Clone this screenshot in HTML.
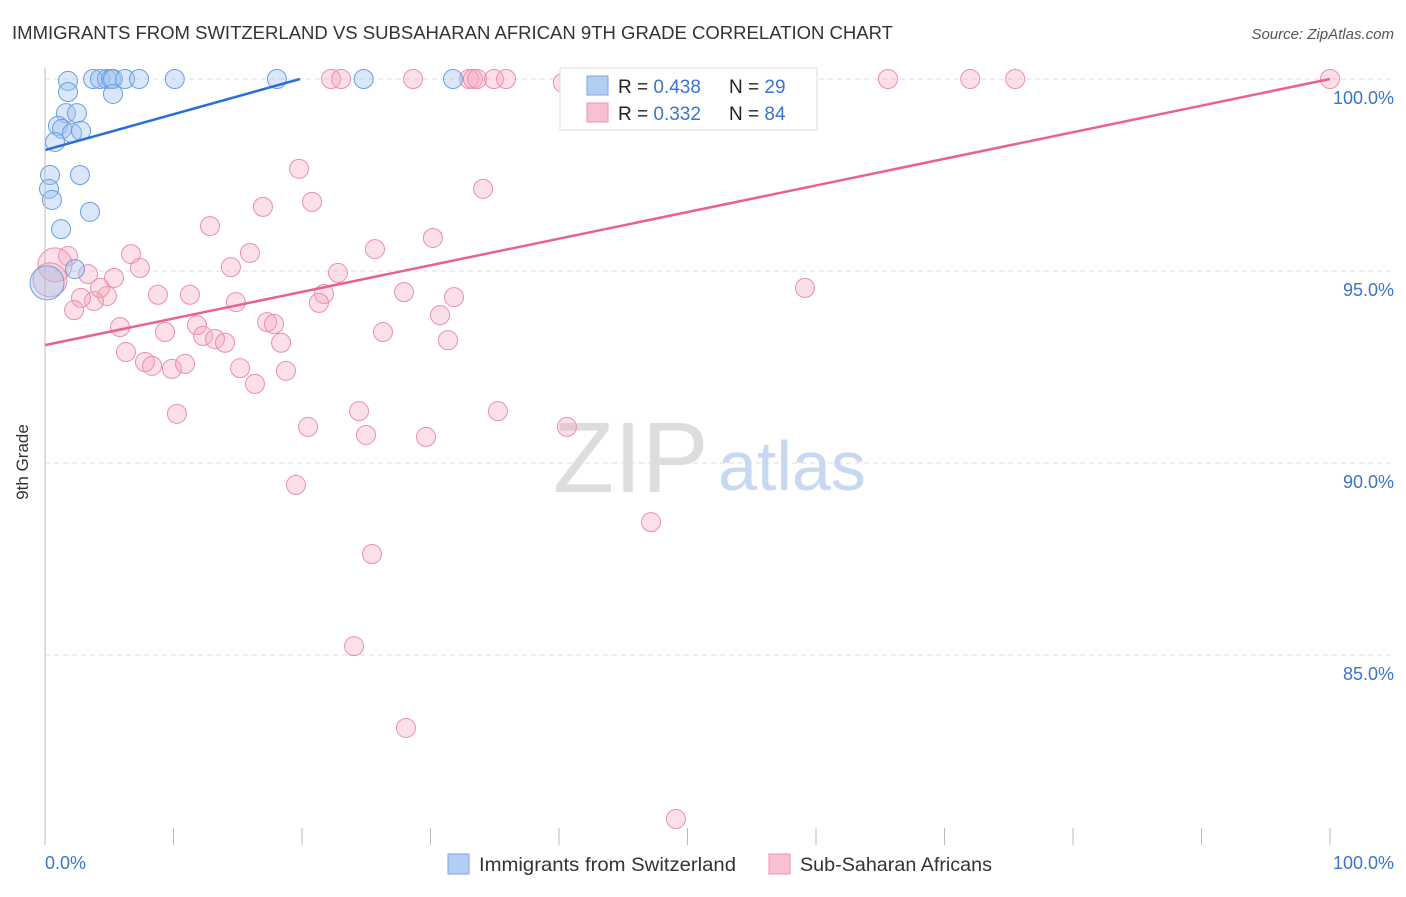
<!DOCTYPE html>
<html><head><meta charset="utf-8"><style>
body{margin:0;background:#fff;font-family:"Liberation Sans",sans-serif;}
svg text{font-family:"Liberation Sans",sans-serif;}
</style></head><body>
<svg id="chart" width="1406" height="892" viewBox="0 0 1406 892">
<text x="12" y="39" font-size="18" fill="#333" textLength="881" lengthAdjust="spacingAndGlyphs">IMMIGRANTS FROM SWITZERLAND VS SUBSAHARAN AFRICAN 9TH GRADE CORRELATION CHART</text>
<text x="1394" y="39" font-size="15" fill="#555" font-style="italic" text-anchor="end">Source: ZipAtlas.com</text>
<g id="grid"></g>
<text x="553" y="492" font-size="100" fill="#ddd" font-family="Liberation Serif">ZIP</text>
<text x="718" y="490" font-size="70" fill="#c8d8f0">atlas</text>
<g id="pts"></g>
<g id="lines"></g>
<line x1="45" y1="68" x2="45" y2="845" stroke="#bbb"/>
<g id="xt"></g>
<text x="28" y="462" font-size="17" fill="#333" transform="rotate(-90 28 462)" text-anchor="middle">9th Grade</text>
<text x="45" y="869" font-size="18" fill="#3a74d0">0.0%</text>
<text x="1394" y="869" font-size="18" fill="#3a74d0" text-anchor="end">100.0%</text>
<g>
<rect x="560" y="68" width="257" height="62" fill="#fff" stroke="#ddd"/>
<rect x="587" y="76" width="21" height="19" fill="#b4cdf2" stroke="#7aa6e6"/>
<rect x="587" y="103" width="21" height="19" fill="#f8c0d0" stroke="#ee94ae"/>
<text x="618" y="93" font-size="19" fill="#222">R = <tspan fill="#3a74d0">0.438</tspan>  <tspan x="729">N = </tspan><tspan fill="#3a74d0">29</tspan></text>
<text x="618" y="120" font-size="19" fill="#222">R = <tspan fill="#3a74d0"> 0.332</tspan>  <tspan x="729">N = </tspan><tspan fill="#3a74d0">84</tspan></text>
</g>
<g>
<rect x="448" y="854" width="21" height="20" fill="#b4cdf2" stroke="#7aa6e6"/>
<text x="479" y="871" font-size="19.5" fill="#333" textLength="257" lengthAdjust="spacingAndGlyphs">Immigrants from Switzerland</text>
<rect x="769" y="854" width="21" height="20" fill="#f8c0d0" stroke="#ee94ae"/>
<text x="800" y="871" font-size="19.5" fill="#333" textLength="192" lengthAdjust="spacingAndGlyphs">Sub-Saharan Africans</text>
</g>
</svg>
<script>
const yTicks=[100,95,90,85];
const yTickLabels=["100.0%","95.0%","90.0%","85.0%"];
const blueX=[1.79,3.74,4.28,4.82,5.14,5.29,6.23,7.32,10.1,18.05,24.8,31.75,1.79,5.29,1.63,2.49,1.01,1.32,2.1,2.8,0.78,0.39,2.72,0.31,0.54,3.5,1.25,2.33,0.16];
const blueY=[99.95,100,100,100,100,100,100,100,100,100,100,100,99.66,99.61,99.11,99.11,98.78,98.7,98.59,98.65,98.36,97.5,97.5,97.14,96.85,96.54,96.09,95.05,94.69];
const pinkX=[22.26,23.04,28.64,33.0,33.3,33.62,34.94,35.88,40.3,42.3,46.07,65.6,72.0,75.5,100,19.77,34.09,16.96,20.78,12.84,30.19,25.68,15.95,6.69,1.79,14.47,7.39,22.8,3.35,5.37,0.78,0.39,27.94,59.14,21.71,8.79,11.28,4.82,3.81,21.32,14.86,2.8,4.28,2.26,30.74,31.83,17.28,17.82,5.84,11.83,9.34,26.3,12.3,13.23,14.01,31.36,18.37,6.3,7.78,8.33,9.88,10.9,15.18,18.75,16.34,10.27,24.44,35.25,20.47,40.62,24.98,29.65,19.53,47.16,25.45,24.05,28.09,49.1];
const pinkY=[100,100,100,100,100,100,100,100,99.9,100,100,100,100,100,100,97.66,97.14,96.67,96.8,96.17,95.86,95.57,95.47,95.44,95.39,95.1,95.08,94.95,94.92,94.82,95.16,94.77,94.45,94.56,94.4,94.38,94.38,94.35,94.22,94.17,94.19,94.3,94.56,93.98,93.85,94.32,93.67,93.62,93.54,93.59,93.41,93.41,93.31,93.23,93.13,93.2,93.13,92.89,92.63,92.53,92.45,92.58,92.47,92.4,92.06,91.28,91.35,91.35,90.94,90.94,90.73,90.68,89.43,88.46,87.63,85.23,83.1,80.73];
const blueTrend=[98.15,100];
const blueTrendEndX=[19.84];
const pinkTrend=[93.07,100];
const NS="http://www.w3.org/2000/svg";
const X=v=>45+v*12.85, Y=v=>79+(100-v)*38.4;
function mk(t,a,p){const e=document.createElementNS(NS,t);for(const k in a)e.setAttribute(k,a[k]);p.appendChild(e);return e;}
const grid=document.getElementById('grid');
yTicks.forEach((t,i)=>{
 const l=mk('line',{x1:45,x2:1394,y1:Y(t),y2:Y(t),stroke:'#ddd','stroke-dasharray':'5,4'},grid);
 
 
 const tx=mk('text',{x:1394,y:Y(t)+25,'font-size':18,fill:'#3a74d0','text-anchor':'end'},grid);
 tx.textContent=yTickLabels[i];
 
 
});
const xt=document.getElementById('xt');
for(let i=0;i<=10;i++){const l=mk('line',{x1:X(i*10),x2:X(i*10),y1:828,y2:845,stroke:'#bbb'},xt);
 
 }
const pts=document.getElementById('pts');
pinkX.forEach((x,i)=>{const big=x<1;const c=mk('circle',{cx:X(x),cy:Y(pinkY[i]),r:big?17:9.5,fill:'rgba(244,165,190,0.35)',stroke:'#eb8fab','stroke-width':1},pts);
 
 });
blueX.forEach((x,i)=>{const big=x<0.2;const c=mk('circle',{cx:X(x),cy:Y(blueY[i]),r:big?17:9.5,fill:'rgba(160,196,240,0.4)',stroke:'#6a9fe0','stroke-width':1},pts);
 
 });
const lines=document.getElementById('lines');
const b=mk('line',{x1:X(0),y1:Y(blueTrend[0]),x2:X(blueTrendEndX[0]),y2:Y(blueTrend[1]),stroke:'#2a6fd6','stroke-width':2.5},lines);


const p=mk('line',{x1:X(0),y1:Y(pinkTrend[0]),x2:X(100),y2:Y(pinkTrend[1]),stroke:'#e8628d','stroke-width':2.5},lines);


</script>
</body></html>
